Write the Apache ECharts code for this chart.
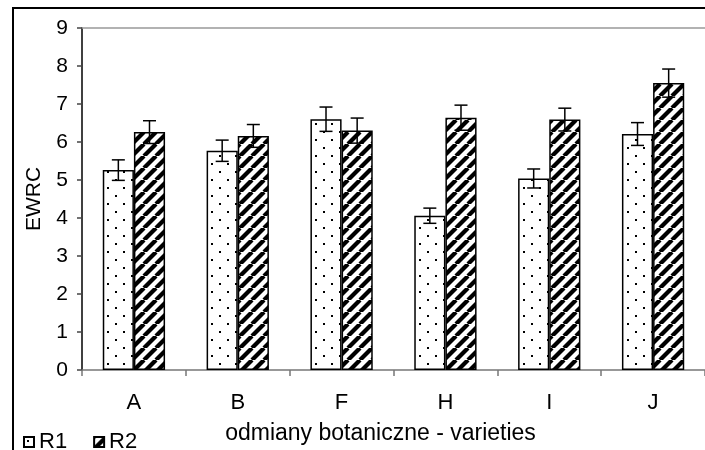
<!DOCTYPE html>
<html>
<head>
<meta charset="utf-8">
<script src="https://cdn.jsdelivr.net/npm/echarts@6/dist/echarts.min.js"></script>
<style>
html,body{margin:0;padding:0;background:#fff;}
#chart{width:705px;height:450px;}
</style>
</head>
<body>
<div id="chart"></div>
<script>
var categories = ['A', 'B', 'F', 'H', 'I', 'J'];
var r1 = [5.26, 5.77, 6.60, 4.06, 5.04, 6.21];
var r2 = [6.26, 6.16, 6.30, 6.64, 6.59, 7.55];
var r1Err = [0.27, 0.28, 0.32, 0.20, 0.25, 0.30];
var r2Err = [0.30, 0.30, 0.33, 0.33, 0.30, 0.37];
var yTicks = [0, 1, 2, 3, 4, 5, 6, 7, 8, 9];
var seriesNames = ['R1', 'R2'];

function dotPattern() {
  var c = document.createElement('canvas');
  c.width = 16; c.height = 16;
  var g = c.getContext('2d');
  g.fillStyle = '#fff'; g.fillRect(0, 0, 16, 16);
  g.fillStyle = '#000';
  g.fillRect(3, 3, 2, 2);
  g.fillRect(11, 11, 2, 2);
  return c;
}
function stripePattern() {
  var s = 12;
  var c = document.createElement('canvas');
  c.width = s; c.height = s;
  var g = c.getContext('2d');
  g.fillStyle = '#fff'; g.fillRect(0, 0, s, s);
  g.strokeStyle = '#000'; g.lineWidth = 4.2;
  for (var k = -1; k <= 1; k++) {
    g.beginPath();
    g.moveTo(k * s, s);
    g.lineTo(k * s + s, 0);
    g.stroke();
  }
  return c;
}

function errData(vals, errs) {
  return vals.map(function (v, i) { return [i, v - errs[i], v + errs[i]]; });
}
function errRenderer(shift) {
  return function (params, api) {
    var x = api.value(0);
    var lo = api.coord([x, api.value(1)]);
    var hi = api.coord([x, api.value(2)]);
    var bw = api.size([1, 0])[0];
    var cx = lo[0] + shift * bw;
    var hw = 6.5;
    var st = { stroke: '#000', lineWidth: 1.5 };
    return {
      type: 'group',
      children: [
        { type: 'line', shape: { x1: cx, y1: lo[1], x2: cx, y2: hi[1] }, style: st },
        { type: 'line', shape: { x1: cx - hw, y1: lo[1], x2: cx + hw, y2: lo[1] }, style: st },
        { type: 'line', shape: { x1: cx - hw, y1: hi[1], x2: cx + hw, y2: hi[1] }, style: st }
      ]
    };
  };
}

var chart = echarts.init(document.getElementById('chart'), null, { renderer: 'canvas' });
var fontFam = '"Liberation Sans", Arial, sans-serif';
var option = {
  animation: false,
  backgroundColor: '#fff',
  textStyle: { fontFamily: fontFam, color: '#000' },
  grid: { left: 82, right: -11, top: 28, bottom: 78, containLabel: false },
  legend: {
    data: seriesNames,
    left: 18, top: 426,
    icon: 'rect', itemWidth: 10, itemHeight: 10, itemGap: 26,
    textStyle: { fontFamily: fontFam, fontSize: 22, color: '#000' }
  },
  xAxis: [{
    type: 'category',
    data: categories,
    axisLine: { lineStyle: { color: '#777', width: 1.5 } },
    axisTick: { show: true, length: 6, lineStyle: { color: '#777', width: 1.5 } },
    axisLabel: { fontSize: 22, color: '#000', margin: 22, fontFamily: fontFam },
    name: 'odmiany botaniczne - varieties',
    nameLocation: 'middle',
    nameGap: 52,
    nameTextStyle: { fontSize: 23, color: '#000', fontFamily: fontFam, padding: [0, 26, 0, 0] }
  }, {
    type: 'category',
    data: categories,
    position: 'top',
    axisLine: { show: true, lineStyle: { color: '#999', width: 1.5 } },
    axisTick: { show: false },
    axisLabel: { show: false }
  }],
  yAxis: {
    type: 'value',
    min: 0, max: 9, interval: 1,
    axisLine: { show: true, lineStyle: { color: '#000', width: 1.5 } },
    axisTick: { show: true, length: 5, lineStyle: { color: '#444', width: 1.5 } },
    axisLabel: { fontSize: 21, color: '#000', margin: 14, fontFamily: fontFam,
      formatter: function (v) { return yTicks.indexOf(v) >= 0 ? String(v) : ''; } },
    splitLine: { show: false },
    name: 'EWRC',
    nameLocation: 'middle',
    nameGap: 37,
    nameTextStyle: { fontSize: 21, color: '#000', fontFamily: fontFam }
  },
  series: [
    {
      name: seriesNames[0], type: 'bar', data: r1,
      barGap: '0%', barCategoryGap: '40%',
      itemStyle: { color: { image: dotPattern(), repeat: 'repeat' }, borderColor: '#000', borderWidth: 1.5 }
    },
    {
      name: seriesNames[1], type: 'bar', data: r2,
      barGap: '0%', barCategoryGap: '40%',
      itemStyle: { color: { image: stripePattern(), repeat: 'repeat' }, borderColor: '#000', borderWidth: 1.5 }
    },
    {
      name: 'errR1', type: 'custom', data: errData(r1, r1Err),
      encode: { x: 0, y: [1, 2] }, renderItem: errRenderer(-0.15), z: 10
    },
    {
      name: 'errR2', type: 'custom', data: errData(r2, r2Err),
      encode: { x: 0, y: [1, 2] }, renderItem: errRenderer(0.15), z: 10
    }
  ],
  graphic: [{
    type: 'rect',
    shape: { x: 13, y: 8, width: 720, height: 460 },
    style: { fill: 'none', stroke: '#000', lineWidth: 2 },
    silent: true, z: 100
  }]
};
chart.setOption(option);
</script>
</body>
</html>
